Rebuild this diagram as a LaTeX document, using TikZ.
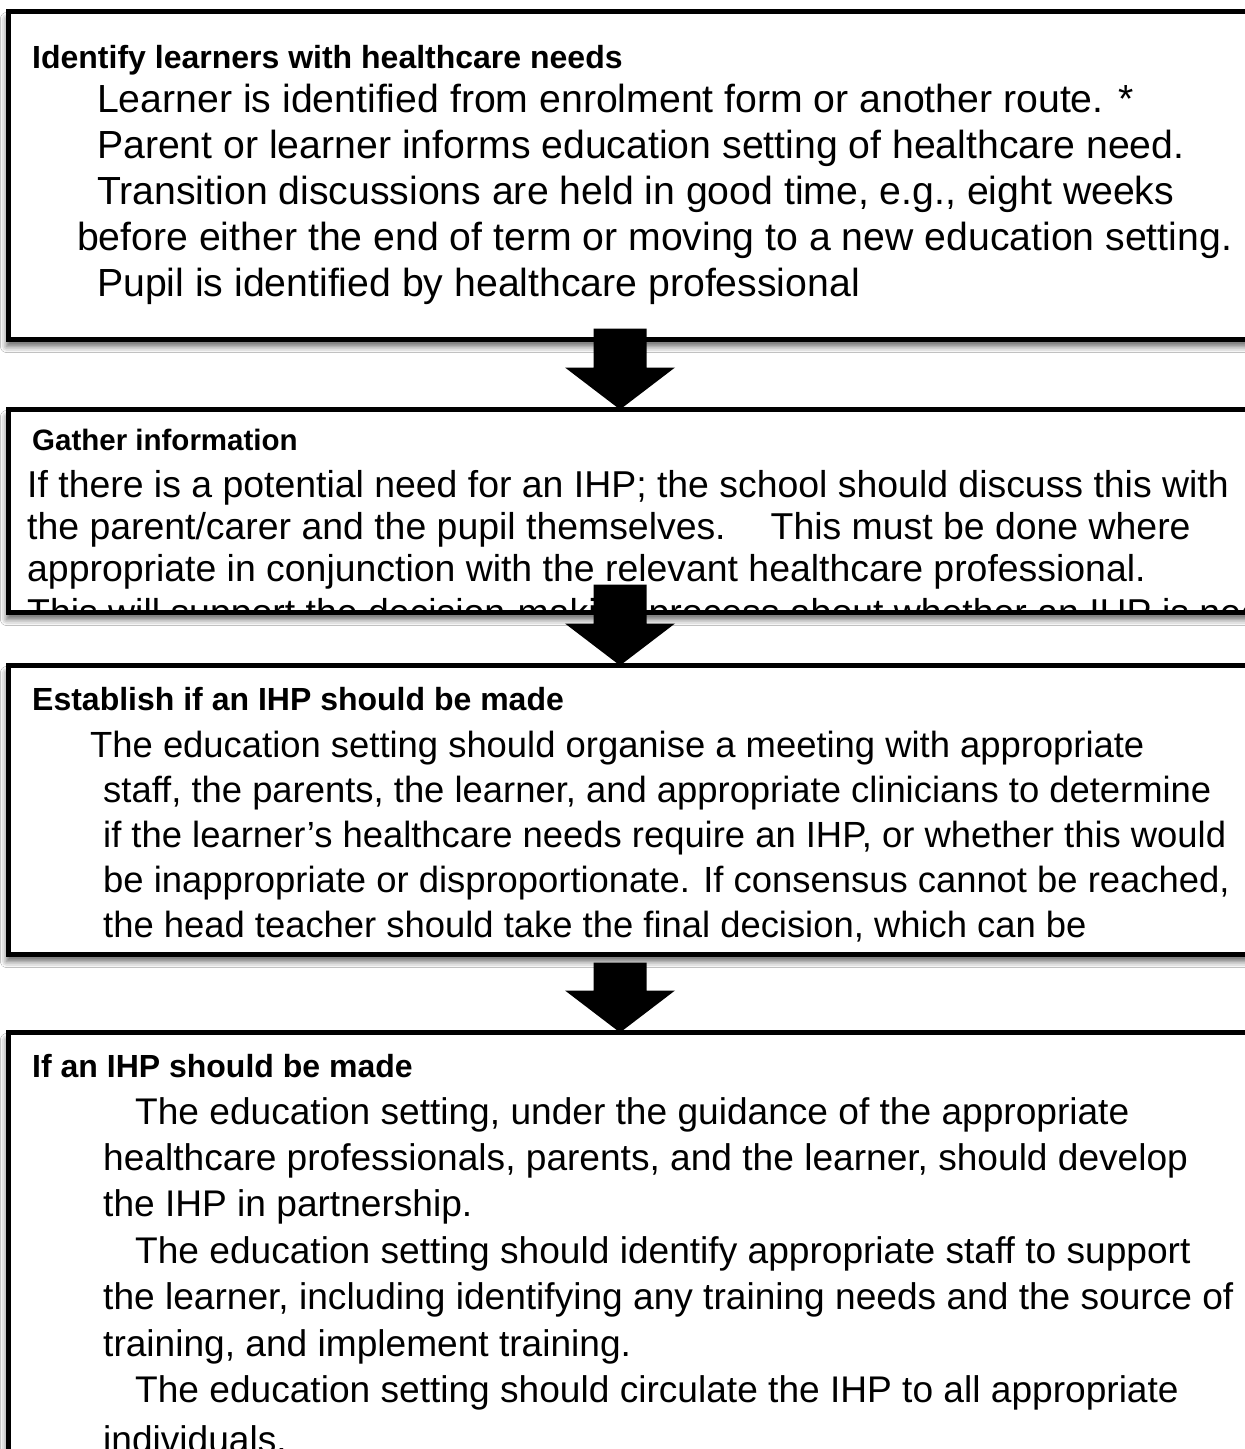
\documentclass[tikz,border=0pt]{standalone}
\usepackage{fontspec}
\setmainfont{Liberation Sans}
\usetikzlibrary{shadows.blur}
\newcommand{\szHead}{\fontsize{32}{36}\bfseries\selectfont}
\newcommand{\szHeadB}{\fontsize{29.5}{34}\bfseries\selectfont}
\newcommand{\szA}{\fontsize{39.2}{46}\selectfont}
\newcommand{\szB}{\fontsize{37.4}{40}\selectfont}
\newcommand{\szC}{\fontsize{36.4}{45}\selectfont}
\newcommand{\szD}{\fontsize{37.1}{46}\selectfont}
\begin{document}
\begin{tikzpicture}[x=1pt,y=-1pt,
  box/.style={draw=black, line width=5pt, fill=white, inner sep=0pt, outer sep=0pt,
    anchor=north west, minimum width=1300pt,
    blur shadow={shadow xshift=-2pt, shadow yshift=-7pt, shadow blur radius=6pt, shadow opacity=60}},
  hd/.style={anchor=base west, inner sep=0pt, font=\szHead},
  ta/.style={anchor=base west, inner sep=0pt, font=\szA},
  tb/.style={anchor=base west, inner sep=0pt, font=\szB},
  tc/.style={anchor=base west, inner sep=0pt, font=\szC},
  td/.style={anchor=base west, inner sep=0pt, font=\szD},
  downarrow/.pic={\fill[black] (0,0) -- (-55,-42) -- (-26.5,-42) -- (-26.5,-81) -- (26.5,-81) -- (26.5,-42) -- (55,-42) -- cycle;},
  shortarrow/.pic={\fill[black] (0,0) -- (-55,-42) -- (-26.5,-42) -- (-26.5,-70) -- (26.5,-70) -- (26.5,-42) -- (55,-42) -- cycle;}
]
\useasboundingbox (0,0) rectangle (1245,1449);
\clip (0,0) rectangle (1245,1449);
\fill[white] (0,0) rectangle (1245,1449);

% boxes
\node[box, minimum height=328pt] (b1) at (8.5,11.5) {};
\node[box, minimum height=203pt] (b2) at (8.5,409.5) {};
\node[box, minimum height=289pt] (b3) at (8.5,665.5) {};
\node[box, minimum height=500pt] (b4) at (8.5,1032.5) {};

% box 1
\node[hd] (h1) at (32,68) {Identify learners with healthcare needs};
\node[ta] (t11) at (97,112) {Learner is identified from enrolment form or another route. *};
\node[ta] (t12) at (97,158) {Parent or learner informs education setting of healthcare need.};
\node[ta] (t13) at (97,204) {Transition discussions are held in good time, e.g., eight weeks};
\node[ta] (t14) at (77,250) {before either the end of term or moving to a new education setting.};
\node[ta] (t15) at (97,296) {Pupil is identified by healthcare professional};

% box 2
\begin{scope}
\clip (11,412) rectangle (1245,610);
\node[hd, font=\szHeadB] (h2) at (32,450) {Gather information};
\node[tb] (t21) at (27,497) {If there is a potential need for an IHP; the school should discuss this with};
\node[tb] (t22) at (27,539) {the parent/carer and the pupil themselves. \ \ \ This must be done where};
\node[tb] (t23) at (27,581) {appropriate in conjunction with the relevant healthcare professional.};
\node[tb] (t24) at (27,625) {This will support the decision-making process about whether an IHP is needed.};
\end{scope}

% box 3
\node[hd] (h3) at (32,710) {Establish if an IHP should be made};
\node[tc] (t31) at (90,757) {The education setting should organise a meeting with appropriate};
\node[tc] (t32) at (103,802) {staff, the parents, the learner, and appropriate clinicians to determine};
\node[tc] (t33) at (103,847) {if the learner’s healthcare needs require an IHP, or whether this would};
\node[tc] (t34) at (103,892) {be inappropriate or disproportionate. If consensus cannot be reached,};
\node[tc] (t35) at (103,937) {the head teacher should take the final decision, which can be};

% box 4
\node[hd] (h4) at (32,1077) {If an IHP should be made};
\node[td] (t41) at (135,1124) {The education setting, under the guidance of the appropriate};
\node[td] (t42) at (103,1170) {healthcare professionals, parents, and the learner, should develop};
\node[td] (t43) at (103,1216) {the IHP in partnership.};
\node[td] (t44) at (135,1263) {The education setting should identify appropriate staff to support};
\node[td] (t45) at (103,1309) {the learner, including identifying any training needs and the source of};
\node[td] (t46) at (103,1356) {training, and implement training.};
\node[td] (t47) at (135,1402) {The education setting should circulate the IHP to all appropriate};
\node[td] (t48) at (103,1452) {individuals.};

% arrows (connectors between boxes)
\coordinate (tip1) at (b2.north -| 620,0);
\coordinate (tip2) at (b3.north -| 620,0);
\coordinate (tip3) at (b4.north -| 620,0);
\pic at (tip1) {downarrow};
\pic at (tip2) {downarrow};
\pic at (tip3) {shortarrow};
\end{tikzpicture}
\end{document}
